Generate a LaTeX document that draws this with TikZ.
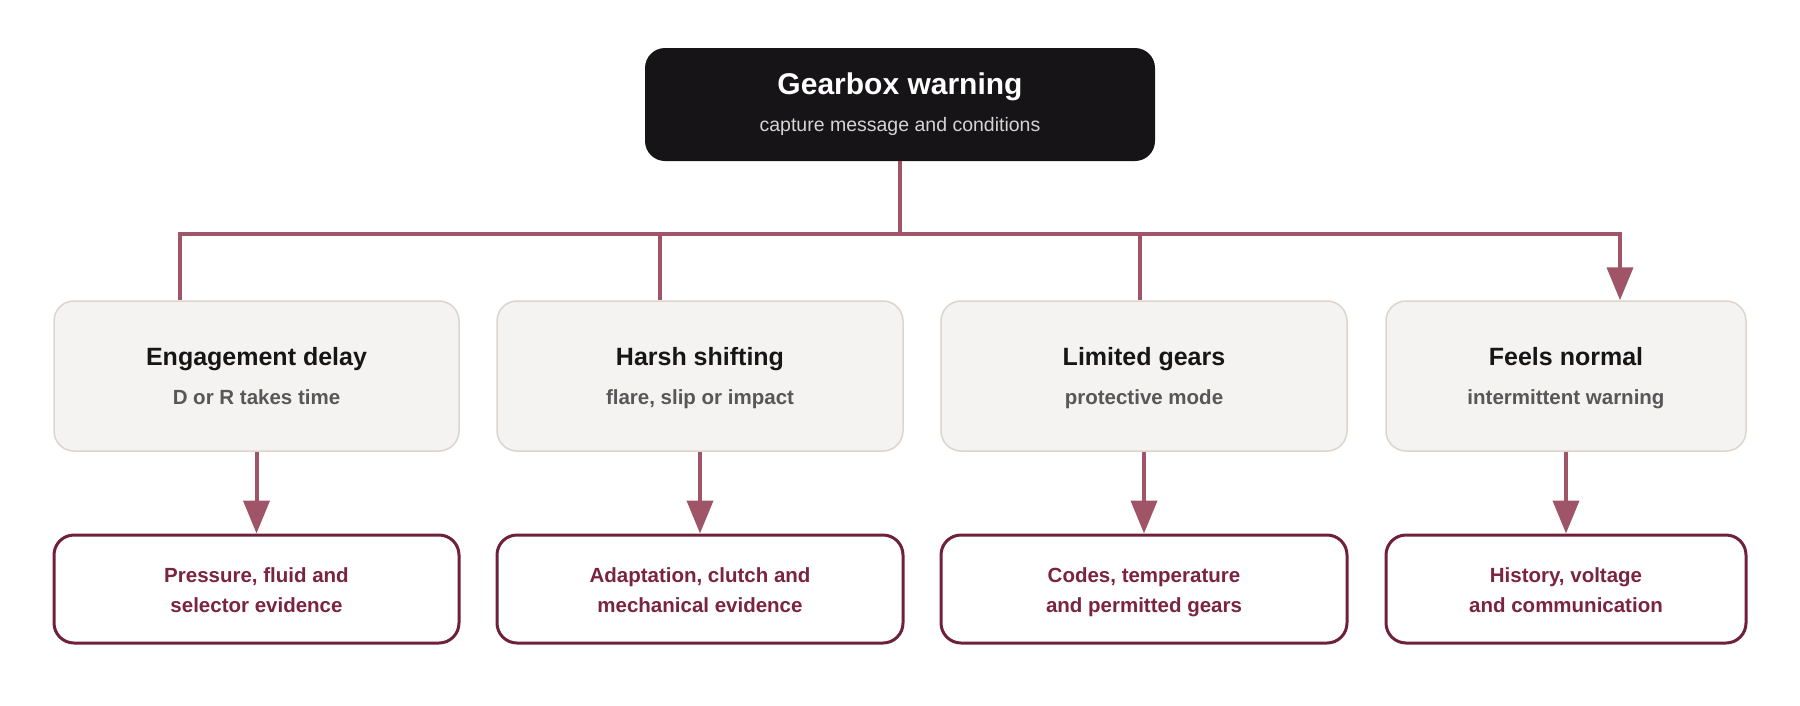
\documentclass[tikz,border=0pt]{standalone}
\usepackage{fontspec}
\setmainfont{Liberation Sans}
\usetikzlibrary{arrows.meta}
\definecolor{conn}{HTML}{A05468}
\definecolor{topfill}{HTML}{161416}
\definecolor{topsub}{HTML}{D6D3D5}
\definecolor{midfill}{HTML}{F5F3F1}
\definecolor{midborder}{HTML}{DDD4CD}
\definecolor{midtitle}{HTML}{161616}
\definecolor{midsub}{HTML}{595658}
\definecolor{botborder}{HTML}{6E2139}
\definecolor{bottext}{HTML}{7A2442}
\begin{document}
\begin{tikzpicture}[x=1pt,y=-1pt,
  topbox/.style={fill=topfill, rounded corners=20pt, minimum width=510pt, minimum height=113pt, inner sep=0pt},
  midbox/.style={draw=midborder, line width=1.5pt, fill=midfill, rounded corners=20pt, minimum height=150pt, inner sep=0pt},
  botbox/.style={draw=botborder, line width=3pt, fill=white, rounded corners=20pt, minimum height=108pt, inner sep=0pt},
  link/.style={draw=conn, line width=4pt},
  arr/.style={link, -{Triangle[length=33pt,width=26pt]}},
  toptitle/.style={anchor=base, inner sep=0pt, text=white, font=\fontsize{30}{36}\selectfont\bfseries},
  topsubt/.style={anchor=base, inner sep=0pt, text=topsub, font=\fontsize{19.5}{24}\selectfont},
  midtitlet/.style={anchor=base, inner sep=0pt, text=midtitle, font=\fontsize{25}{30}\selectfont\bfseries},
  midsubt/.style={anchor=base, inner sep=0pt, text=midsub, font=\fontsize{20.5}{25}\selectfont\bfseries},
  bott/.style={anchor=base, inner sep=0pt, text=bottext, font=\fontsize{20.5}{25}\selectfont\bfseries}
]
\useasboundingbox (0,0) rectangle (1800,705);

% top
\node[topbox] (top) at (900,104.5) {};
\node[toptitle] (topT) at (900,94) {Gearbox warning};
\node[topsubt] (topS) at (900,131) {capture message and conditions};

% middle boxes
\node[midbox, minimum width=405pt] (m1) at (256.5,376) {};
\node[midbox, minimum width=406pt] (m2) at (700,376) {};
\node[midbox, minimum width=406pt] (m3) at (1144,376) {};
\node[midbox, minimum width=360pt] (m4) at (1566,376) {};

\node[midtitlet] (m1T) at (256.5,365) {Engagement delay};
\node[midsubt] (m1S) at (256.5,404) {D or R takes time};
\node[midtitlet] (m2T) at (700,365) {Harsh shifting};
\node[midsubt] (m2S) at (700,404) {flare, slip or impact};
\node[midtitlet] (m3T) at (1144,365) {Limited gears};
\node[midsubt] (m3S) at (1144,404) {protective mode};
\node[midtitlet] (m4T) at (1566,365) {Feels normal};
\node[midsubt] (m4S) at (1566,404) {intermittent warning};

% bottom boxes
\node[botbox, minimum width=405pt] (b1) at (256.5,589) {};
\node[botbox, minimum width=406pt] (b2) at (700,589) {};
\node[botbox, minimum width=406pt] (b3) at (1144,589) {};
\node[botbox, minimum width=360pt] (b4) at (1566,589) {};

\node[bott] (b1a) at (256.5,582) {Pressure, fluid and};
\node[bott] (b1b) at (256.5,612) {selector evidence};
\node[bott] (b2a) at (700,582) {Adaptation, clutch and};
\node[bott] (b2b) at (700,612) {mechanical evidence};
\node[bott] (b3a) at (1144,582) {Codes, temperature};
\node[bott] (b3b) at (1144,612) {and permitted gears};
\node[bott] (b4a) at (1566,582) {History, voltage};
\node[bott] (b4b) at (1566,612) {and communication};

% bus
\coordinate (d1) at (180,234);
\coordinate (d2) at (660,234);
\coordinate (d3) at (1140,234);
\coordinate (d4) at (1620,234);

\draw[link] (top.south) -- (top.south |- d1);
\draw[link] (d2) -- (d2 |- m2.north);
\draw[link] (d3) -- (d3 |- m3.north);
\draw[arr] (d1 |- m1.north) -- (d1) -- (d4) -- (d4 |- m4.north);

% mid to bottom
\draw[arr] (m1.south) -- (b1.north);
\draw[arr] (m2.south) -- (b2.north);
\draw[arr] (m3.south) -- (b3.north);
\draw[arr] (m4.south) -- (b4.north);
\end{tikzpicture}
\end{document}
